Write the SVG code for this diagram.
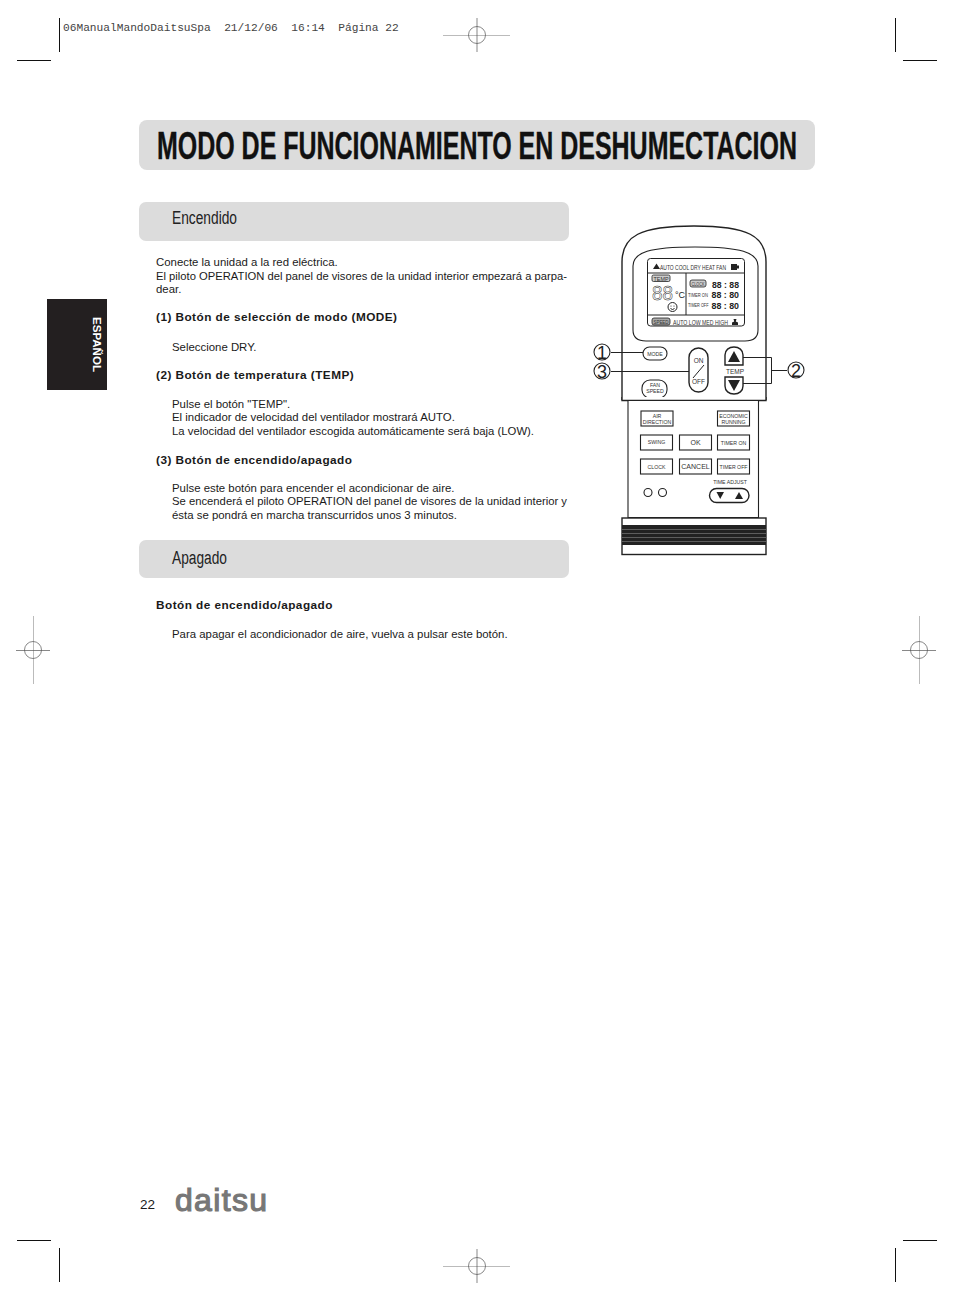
<svg xmlns="http://www.w3.org/2000/svg" width="954" height="1300" viewBox="0 0 954 1300">
<style>
text{font-family:"Liberation Sans",Arial,sans-serif;fill:#1a1a1a}
.b{font-size:11.4px}
.h{font-size:11.8px;font-weight:bold;letter-spacing:.45px}
.sub{font-size:18px;fill:#222}
.bar{fill:#dcdcdc}
.crop{stroke:#111;stroke-width:1;fill:none}
.reg{stroke:#555;stroke-width:.7;fill:none}
.regh{stroke:#bbb;stroke-width:1;fill:none}
.o{fill:#fff;stroke:#222;stroke-width:1.1}
.o2{fill:#fff;stroke:#222;stroke-width:1.4}
.l{fill:none;stroke:#222;stroke-width:1}
.t{font-size:5.2px;text-anchor:middle;fill:#333}
.s{font-size:5.2px;fill:#333}
.d{fill:#222;font-size:9.5px;font-weight:bold}
.num{fill:#fff;stroke:#222;stroke-width:1.1}
.numt{font-size:18px;text-anchor:middle;fill:#222}
</style>
<rect width="954" height="1300" fill="#fff"/>
<g id="printmarks">
<path class="crop" d="M59.500 18V52M17 60.500H51M895.500 18V52M903 60.500H937M59.500 1248V1282M17 1240.500H51M895.500 1248V1282M903 1240.500H937"/>
<path class="regh" d="M443 35.500H510M443 1266.500H510M33.500 616V684M919.500 616V684"/>
<path class="reg" d="M477 18V52M16 650.500H50M902 650.500H936M477 1249V1283"/>
<circle class="reg" cx="477" cy="35" r="8.500"/><circle class="reg" cx="33" cy="650" r="8.500"/><circle class="reg" cx="919" cy="650" r="8.500"/><circle class="reg" cx="477" cy="1266" r="8.500"/>
<text x="63" y="31" font-size="11.200" style="font-family:'Liberation Mono',monospace;fill:#444" xml:space="preserve">06ManualMandoDaitsuSpa  21/12/06  16:14  Página 22</text>
</g>
<g id="title">
<rect class="bar" x="139" y="120" width="676" height="50" rx="8"/>
<text x="157" y="159" textLength="640" lengthAdjust="spacingAndGlyphs" style="font-weight:bold;font-size:39px;fill:#111;stroke:#111;stroke-width:.4">MODO DE FUNCIONAMIENTO EN DESHUMECTACION</text>
</g>
<g id="tab">
<rect x="47" y="299" width="60" height="91" fill="#231f20"/>
<text transform="translate(93 317) rotate(90)" textLength="55" lengthAdjust="spacingAndGlyphs" style="fill:#fff;font-weight:bold;font-size:11.500px">ESPAÑOL</text>
</g>
<g id="encendido">
<rect class="bar" x="139" y="202" width="430" height="39" rx="7"/>
<text class="sub" x="172" y="224" textLength="65" lengthAdjust="spacingAndGlyphs">Encendido</text>
<text class="b" x="156" y="266">Conecte la unidad a la red eléctrica.</text>
<text class="b" x="156" y="280" textLength="411" lengthAdjust="spacingAndGlyphs">El piloto OPERATION del panel de visores de la unidad interior empezará a parpa-</text>
<text class="b" x="156" y="293">dear.</text>
<text class="h" x="156" y="321">(1) Botón de selección de modo (MODE)</text>
<text class="b" x="172" y="351">Seleccione DRY.</text>
<text class="h" x="156" y="379">(2) Botón de temperatura (TEMP)</text>
<text class="b" x="172" y="408">Pulse el botón "TEMP".</text>
<text class="b" x="172" y="421">El indicador de velocidad del ventilador mostrará AUTO.</text>
<text class="b" x="172" y="435" textLength="362" lengthAdjust="spacingAndGlyphs">La velocidad del ventilador escogida automáticamente será baja (LOW).</text>
<text class="h" x="156" y="464">(3) Botón de encendido/apagado</text>
<text class="b" x="172" y="492">Pulse este botón para encender el acondicionar de aire.</text>
<text class="b" x="172" y="505" textLength="395" lengthAdjust="spacingAndGlyphs">Se encenderá el piloto OPERATION del panel de visores de la unidad interior y</text>
<text class="b" x="172" y="519">ésta se pondrá en marcha transcurridos unos 3 minutos.</text>
</g>
<g id="apagado">
<rect class="bar" x="139" y="540" width="430" height="38" rx="7"/>
<text class="sub" x="172" y="564" textLength="55" lengthAdjust="spacingAndGlyphs">Apagado</text>
<text class="h" x="156" y="609">Botón de encendido/apagado</text>
<text class="b" x="172" y="638">Para apagar el acondicionador de aire, vuelva a pulsar este botón.</text>
</g>
<g id="remote-body">
<path class="o2" d="M622 400V262C622 236 640 226 694 226C748 226 766 236 766 262V400"/>
<path class="o" d="M633 330V266C633 252 650 247 695 247C740 247 758 252 758 266V330C758 338 752 341 745 341H646C638 341 633 338 633 330Z"/>
<rect class="l" x="647.500" y="258.500" width="97" height="67.500" rx="3" stroke-width="1.100"/>
<path class="l" d="M647.500 273H744.500M647.500 315H744.500M686 273V315"/>
</g>
<g id="lcd">
<path d="M653 269L656.500 263.500L660 269Z" fill="#222"/>
<text x="660" y="269.500" class="s" textLength="66" lengthAdjust="spacingAndGlyphs" style="font-size:7px">AUTO COOL DRY HEAT FAN</text>
<rect x="731" y="264" width="6" height="6" fill="#222"/><rect x="737" y="265.500" width="2" height="3" fill="#222"/>
<rect x="652" y="275" width="18" height="6.500" rx="1.500" fill="#ccc" stroke="#222" stroke-width=".8"/>
<text x="661" y="280.500" class="t" style="font-size:5.500px" textLength="15" lengthAdjust="spacingAndGlyphs">TEMP</text>
<text x="652" y="300" textLength="21" lengthAdjust="spacingAndGlyphs" style="font-size:21px;fill:#fff;stroke:#222;stroke-width:.5">88</text>
<text x="675" y="298" style="font-size:9px;fill:#222">°C</text>
<g id="smiley"><circle class="l" cx="672.500" cy="307" r="4.500" stroke-width=".8"/><circle cx="671" cy="306" r=".6" fill="#222"/><circle cx="674" cy="306" r=".6" fill="#222"/><path class="l" d="M670.500 308.500Q672.500 310.500 674.500 308.500" stroke-width=".6"/></g>
<rect x="690" y="280" width="16" height="7" rx="2" fill="#ccc" stroke="#222" stroke-width=".8"/>
<text x="698" y="286" class="t" textLength="13" lengthAdjust="spacingAndGlyphs">CLOCK</text>
<text x="712" y="287.500" class="d" textLength="27" lengthAdjust="spacingAndGlyphs">88 : 88</text>
<text x="688" y="296.500" class="s" textLength="20" lengthAdjust="spacingAndGlyphs">TIMER ON</text>
<text x="711.500" y="298" class="d" textLength="27.500" lengthAdjust="spacingAndGlyphs">88 : 80</text>
<text x="688" y="307" class="s" textLength="20.500" lengthAdjust="spacingAndGlyphs">TIMER OFF</text>
<text x="711.500" y="309" class="d" textLength="27.500" lengthAdjust="spacingAndGlyphs">88 : 80</text>
<rect x="652" y="318" width="18" height="7" rx="2" fill="#aaa" stroke="#222" stroke-width=".8"/>
<text x="661" y="324" class="t" textLength="15" lengthAdjust="spacingAndGlyphs">SPEED</text>
<text x="673" y="324.500" class="s" textLength="55" lengthAdjust="spacingAndGlyphs" style="font-size:7px">AUTO LOW MED HIGH</text>
<path d="M733.500 319H736.500L735.800 321.500L738 322.500V325H732V322.500L734.200 321.500Z" fill="#222"/>
</g>
<g id="connectors">
<path class="l" d="M611 352.500H643M611 371.500H689M743 357.500H771.500V383.500H743M771.500 370.500H787"/>
</g>
<g id="callout-1"><circle class="num" cx="602" cy="352" r="8"/><text class="numt" x="602" y="358.500">1</text></g>
<g id="callout-3"><circle class="num" cx="602" cy="371" r="8"/><text class="numt" x="602" y="377.500">3</text></g>
<g id="callout-2"><circle class="num" cx="796" cy="370" r="8"/><text class="numt" x="796" y="376.500">2</text></g>
<g id="btn-mode"><rect class="o" x="643" y="347" width="24" height="13" rx="6.500"/><text class="t" x="655" y="355.500">MODE</text></g>
<g id="btn-onoff"><rect class="o2" x="689" y="348" width="19" height="44" rx="9.500"/><text class="t" x="698.500" y="363" style="font-size:6.500px">ON</text><path class="l" d="M693 378L704 365"/><text class="t" x="698.500" y="384" style="font-size:6.500px">OFF</text></g>
<g id="btn-up"><path class="o2" d="M725 365V355C725 350 729 347 734 347C739 347 743 350 743 355V365Z"/><path d="M728 362L734 351L740 362Z" fill="#222"/></g>
<text class="t" x="735" y="373.500" style="font-size:6.500px">TEMP</text>
<g id="btn-down"><path class="o2" d="M725 377V386C725 391 729 394 734 394C739 394 743 391 743 386V377Z"/><path d="M728 380L734 391L740 380Z" fill="#222"/></g>
<g id="btn-fan"><rect class="o" x="642" y="380" width="25" height="18" rx="8"/><text class="t" x="655" y="386.500">FAN</text><text class="t" x="655" y="393">SPEED</text></g>
<g id="lower">
<path class="o2" d="M622 397V400.500H766V397"/>
<path class="o" d="M628 401V517.500H758.500V401"/>
</g>
<g id="btn-air"><rect class="o" x="641" y="411" width="32" height="15"/><text class="t" x="657" y="417.500">AIR</text><text class="t" x="657" y="424">DIRECTION</text></g>
<g id="btn-eco"><rect class="o" x="717.500" y="411" width="32" height="15"/><text class="t" x="733.500" y="417.500">ECONOMIC</text><text class="t" x="733.500" y="424">RUNNING</text></g>
<g id="btn-swing"><rect class="o" x="640.500" y="435" width="32" height="15"/><text class="t" x="656.500" y="444">SWING</text></g>
<g id="btn-ok"><rect class="o" x="679.500" y="435" width="32" height="15"/><text class="t" x="695.500" y="445" style="font-size:7px">OK</text></g>
<g id="btn-timeron"><rect class="o" x="717.500" y="435" width="32" height="15"/><text class="t" x="733.500" y="444.500">TIMER ON</text></g>
<g id="btn-clock"><rect class="o" x="640.500" y="459" width="32" height="15"/><text class="t" x="656.500" y="468.500">CLOCK</text></g>
<g id="btn-cancel"><rect class="o" x="679.500" y="459" width="32" height="15"/><text class="t" x="695.500" y="469" style="font-size:7px">CANCEL</text></g>
<g id="btn-timeroff"><rect class="o" x="717.500" y="459" width="32" height="15"/><text class="t" x="733.500" y="468.500">TIMER OFF</text></g>
<g id="leds"><circle class="o" cx="648" cy="492.500" r="4"/><circle class="o" cx="662.500" cy="492.500" r="4"/></g>
<g id="btn-time"><text class="t" x="730" y="484">TIME ADJUST</text><rect class="o2" x="709.500" y="488.500" width="39.500" height="14" rx="7"/><path d="M716.500 492H724L720.200 499Z" fill="#222"/><path d="M735 499H743L739 492Z" fill="#222"/></g>
<g id="remote-base">
<rect class="o2" x="622" y="518" width="144" height="36.500"/>
<rect x="622" y="525" width="144" height="20" fill="#222"/>
<path d="M622 529.500H766M622 533.500H766M622 537.500H766M622 541.500H766" stroke="#777" stroke-width=".7"/>
</g>
<g id="footer">
<text x="140" y="1209" font-size="13.500">22</text>
<text x="175" y="1211" textLength="92" lengthAdjust="spacing" style="font-size:32px;fill:#777;stroke:#777;stroke-width:1.200">daitsu</text>
</g>
</svg>
